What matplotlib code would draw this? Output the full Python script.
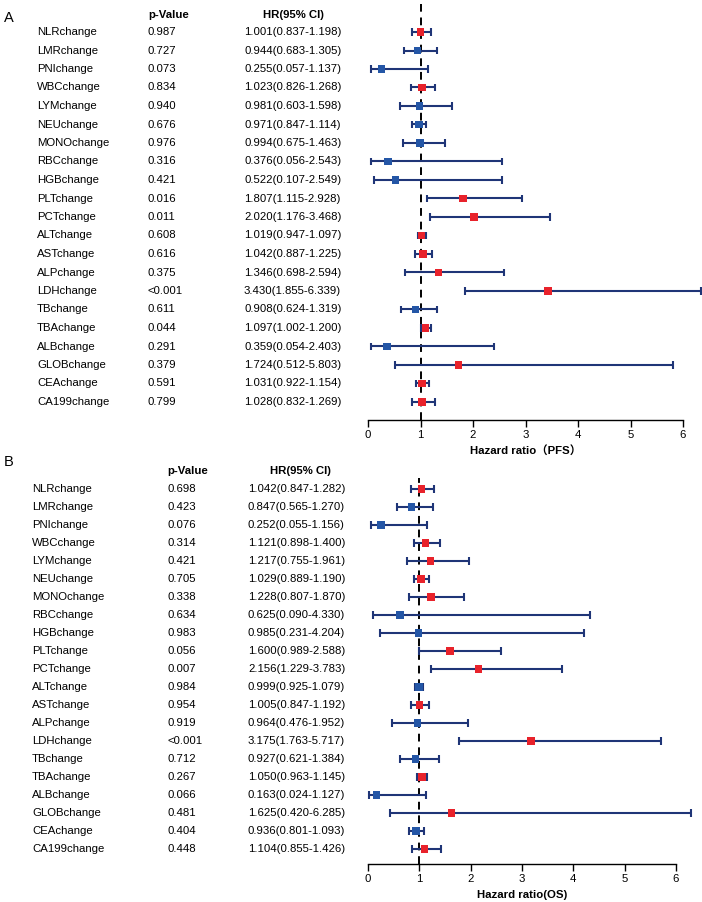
import numpy as np
import matplotlib.pyplot as plt

plt.rcParams['font.family'] = ['Liberation Sans', 'Noto Sans CJK SC', 'DejaVu Sans']

names = ["NLRchange", "LMRchange", "PNIchange", "WBCchange", "LYMchange", "NEUchange",
         "MONOchange", "RBCchange", "HGBchange", "PLTchange", "PCTchange", "ALTchange",
         "ASTchange", "ALPchange", "LDHchange", "TBchange", "TBAchange", "ALBchange",
         "GLOBchange", "CEAchange", "CA199change"]

# panel A (PFS)
p_a = ["0.987", "0.727", "0.073", "0.834", "0.940", "0.676", "0.976", "0.316", "0.421", "0.016",
       "0.011", "0.608", "0.616", "0.375", "<0.001", "0.611", "0.044", "0.291", "0.379", "0.591", "0.799"]
hr_a = [1.001, 0.944, 0.255, 1.023, 0.981, 0.971, 0.994, 0.376, 0.522, 1.807, 2.020, 1.019,
        1.042, 1.346, 3.430, 0.908, 1.097, 0.359, 1.724, 1.031, 1.028]
lo_a = [0.837, 0.683, 0.057, 0.826, 0.603, 0.847, 0.675, 0.056, 0.107, 1.115, 1.176, 0.947,
        0.887, 0.698, 1.855, 0.624, 1.002, 0.054, 0.512, 0.922, 0.832]
hi_a = [1.198, 1.305, 1.137, 1.268, 1.598, 1.114, 1.463, 2.543, 2.549, 2.928, 3.468, 1.097,
        1.225, 2.594, 6.339, 1.319, 1.200, 2.403, 5.803, 1.154, 1.269]

# panel B (OS)
p_b = ["0.698", "0.423", "0.076", "0.314", "0.421", "0.705", "0.338", "0.634", "0.983", "0.056",
       "0.007", "0.984", "0.954", "0.919", "<0.001", "0.712", "0.267", "0.066", "0.481", "0.404", "0.448"]
hr_b = [1.042, 0.847, 0.252, 1.121, 1.217, 1.029, 1.228, 0.625, 0.985, 1.600, 2.156, 0.999,
        1.005, 0.964, 3.175, 0.927, 1.050, 0.163, 1.625, 0.936, 1.104]
lo_b = [0.847, 0.565, 0.055, 0.898, 0.755, 0.889, 0.807, 0.090, 0.231, 0.989, 1.229, 0.925,
        0.847, 0.476, 1.763, 0.621, 0.963, 0.024, 0.420, 0.801, 0.855]
hi_b = [1.282, 1.270, 1.156, 1.400, 1.961, 1.190, 1.870, 4.330, 4.204, 2.588, 3.783, 1.079,
        1.192, 1.952, 5.717, 1.384, 1.145, 1.127, 6.285, 1.093, 1.426]

W, H = 702, 902
fig = plt.figure(figsize=(W / 100, H / 100), dpi=100)

RED = "#e8222b"
BLUE = "#2456a6"
NAVY = "#1f3577"
FS = 8.2


def panel(letter, p, hr, lo, hi, xlabel, x0, x6, top, row0, row_last, axis_y,
          name_x, p_x, hr_x, hp_x, hhr_x, head_y, letter_y, xlab_y):
    n = len(hr)
    step = (row_last - row0) / (n - 1)
    y_bot = (axis_y - row0) / step
    y_top = (top - row0) / step
    ax = fig.add_axes([x0 / W, 1 - axis_y / H, (x6 - x0) / W, (axis_y - top) / H])
    ax.set_xlim(0, 6)
    ax.set_ylim(y_bot, y_top)
    for s in ["top", "right", "left"]:
        ax.spines[s].set_visible(False)
    ax.spines["bottom"].set_linewidth(1.0)
    ax.set_yticks([])
    ax.set_xticks(range(7))
    ax.tick_params(axis="x", direction="out", length=5, width=1.0, labelsize=FS, pad=2)
    ax.axvline(1, color="black", ls=(0, (4, 3)), lw=1.4, zorder=1)

    ys = np.arange(n)
    ax.hlines(ys, lo, hi, color=NAVY, lw=1.5, clip_on=False, zorder=2)
    for x in (lo, hi):
        ax.vlines(x, ys - 0.2, ys + 0.2, color=NAVY, lw=1.5, clip_on=False, zorder=2)
    cols = [RED if v > 1 else BLUE for v in hr]
    ax.scatter(hr, ys, marker="s", s=30, c=cols, zorder=3, clip_on=False, linewidths=0)

    for i in range(n):
        yy = 1 - (row0 + i * step) / H
        fig.text(name_x / W, yy, names[i], fontsize=FS, va="center")
        fig.text(p_x / W, yy, p[i], fontsize=FS, va="center")
        fig.text(hr_x / W, yy, "%.3f(%.3f-%.3f)" % (hr[i], lo[i], hi[i]), fontsize=FS, va="center")
    fig.text(hp_x / W, 1 - head_y / H, "p-Value", fontsize=FS, fontweight="bold", va="center")
    fig.text(hhr_x / W, 1 - head_y / H, "HR(95% CI)", fontsize=FS, fontweight="bold", va="center")
    fig.text(4 / W, 1 - letter_y / H, letter, fontsize=10.5, va="center")
    fig.text((x0 + x6) / 2 / W, 1 - xlab_y / H, xlabel, fontsize=FS, fontweight="bold",
             ha="center", va="center")


panel("A", p_a, hr_a, lo_a, hi_a, "Hazard ratio（PFS）", 368, 683, 4, 32, 402, 420,
      37, 148, 244, 148, 263, 15, 18, 450)
panel("B", p_b, hr_b, lo_b, hi_b, "Hazard ratio(OS)", 368, 676, 478, 489, 849, 864,
      32, 167, 248, 167, 270, 471, 462, 895)

fig.savefig("out.png", dpi=100)
